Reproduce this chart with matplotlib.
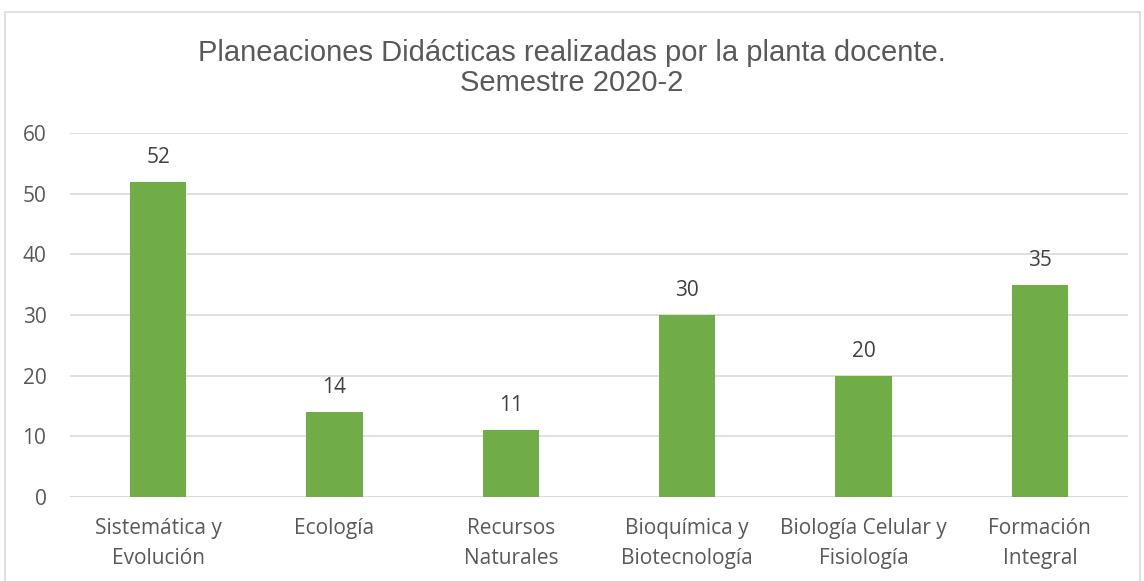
import matplotlib.pyplot as plt
from matplotlib.patches import Rectangle
import numpy as np

# datos del grafico
categorias = ["Sistemática y\nEvolución", "Ecología", "Recursos\nNaturales",
              "Bioquímica y\nBiotecnología", "Biología Celular y\nFisiología",
              "Formación\nIntegral"]
valores = [52, 14, 11, 30, 20, 35]
titulo = "Planeaciones Didácticas realizadas por la planta docente.\nSemestre 2020-2"

verde = "#70AD47"
gris_texto = "#595959"
gris_linea = "#D9D9D9"

fig = plt.figure(figsize=(11.44, 5.81), dpi=100)
ax = fig.add_axes([70 / 1144, 1 - 497 / 581, (1128 - 70) / 1144, (497 - 133) / 581])

# borde del area del grafico
fig.patches.append(Rectangle((5 / 1144, -0.05), 1135 / 1144, 1.05 - 12 / 581,
                             transform=fig.transFigure, fill=False,
                             edgecolor=gris_linea, linewidth=1.2))

x = np.arange(len(categorias))
barras = ax.bar(x, valores, width=0.32, color=verde, zorder=3)

ax.set_xlim(-0.5, len(categorias) - 0.5)
ax.set_ylim(0, 60)
ax.set_yticks(range(0, 61, 10))
ax.yaxis.grid(True, color=gris_linea, linewidth=1.2, zorder=0)
for s in ax.spines.values():
    s.set_visible(False)
ax.axhline(0, color=gris_linea, linewidth=1.2, zorder=2)
ax.tick_params(length=0)
ax.tick_params(axis="y", pad=17)
ax.tick_params(axis="x", pad=15)

ax.set_xticks(x)
ax.set_xticklabels(categorias, fontsize=15, color=gris_texto, family="Open Sans",
                   linespacing=1.55)
for lbl in ax.get_yticklabels():
    lbl.set_fontsize(15)
    lbl.set_color(gris_texto)
    lbl.set_family("Open Sans")

for b, v in zip(barras, valores):
    ax.annotate(str(v), (b.get_x() + b.get_width() / 2, v), xytext=(0, 10),
                textcoords="offset points", ha="center", va="bottom",
                fontsize=15, color="#404040", family="Open Sans")

fig.text(0.5, 1 - 68 / 581, titulo, ha="center", va="center", fontsize=21,
         color=gris_texto, family="Liberation Sans", linespacing=1.1)

fig.savefig("out.png", dpi=100)
